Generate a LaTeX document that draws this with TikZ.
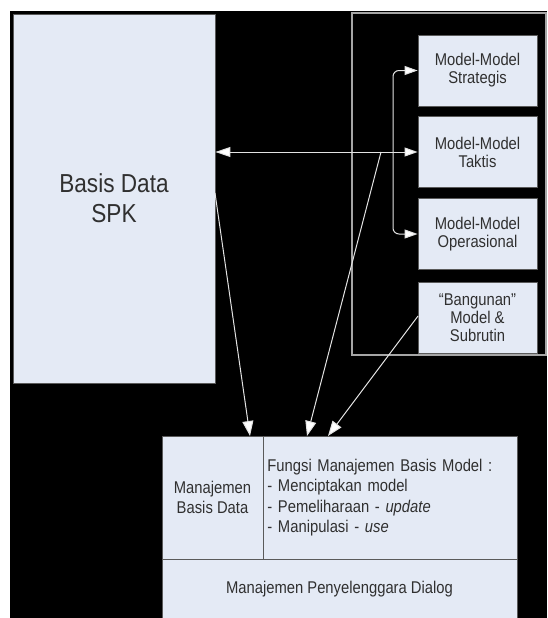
\documentclass[tikz,border=0pt]{standalone}
\usepackage{fontspec}
\setmainfont[FakeStretch=0.87]{Liberation Sans}
\usetikzlibrary{arrows.meta}
\definecolor{boxfill}{HTML}{E4EAF5}
\definecolor{txt}{HTML}{303030}
\definecolor{edge}{HTML}{5A5A5A}
\definecolor{wire}{HTML}{E2E2E2}
\tikzset{
  pane/.style={draw=edge, line width=0.8pt, fill=boxfill, text=txt, inner sep=0pt, align=center},
  modelbox/.style={pane, minimum width=119pt, minimum height=71pt, font=\fontsize{17}{18}\selectfont},
  wirearrow/.style={draw=wire, line width=1pt, -{Triangle[length=13pt,width=9pt,fill=white]}},
}
\begin{document}
\begin{tikzpicture}[x=1pt,y=-1pt]
  \useasboundingbox (0,0) rectangle (547,618);
  \fill[white] (0,0) rectangle (547,618);
  \fill[black] (10,11) rectangle (547,618);
  % frame of models
  \draw[draw=gray!70, line width=1.2pt] (352,13) rectangle (546,355);
  % basis data
  \node[pane, minimum width=202pt, minimum height=369pt, font=\fontsize{26}{30}\selectfont] (basis) at (114,198.5) {Basis Data\\SPK};
  % model boxes
  \node[modelbox] (m1) at (477.5,70.5) {Model-Model\\Strategis};
  \node[modelbox] (m2) at (477.5,152) {Model-Model\\Taktis};
  \node[modelbox] (m3) at (477.5,234) {Model-Model\\Operasional};
  \node[modelbox] (m4) at (477.5,317.5) {``Bangunan''\\Model \&\\Subrutin};
  % bottom block
  \node[pane, minimum width=101pt, minimum height=123pt, font=\fontsize{17}{20}\selectfont] (mbd) at (212.5,497.5) {Manajemen\\Basis Data};
  \node[pane, minimum width=254pt, minimum height=123pt, font=\fontsize{17}{20.5}\selectfont, align=left, anchor=west, text width=246pt, inner xsep=4pt] (mbm) at (263,497.5) {Fungsi Manajemen Basis Model :\\- Menciptakan model\\- Pemeliharaan - \textit{update}\\- Manipulasi - \textit{use}};
  \node[pane, minimum width=355pt, minimum height=60pt, font=\fontsize{17}{20}\selectfont] (dialog) at (339.5,589) {Manajemen Penyelenggara Dialog};
  % connectors
  \draw[wirearrow, {Triangle[length=15pt,width=10pt,fill=white]}-{Triangle[length=13pt,width=9pt,fill=white]}] (basis.east |- m2.west) -- (m2.west);
  \coordinate (br) at (393,152);
  \coordinate (jn) at (381,152);
  \draw[wirearrow, rounded corners=6pt] (br) -- (br |- m1.west) -- (m1.west);
  \draw[wirearrow, rounded corners=6pt] (br) -- (br |- m3.west) -- (m3.west);
  \coordinate (s1) at (215,193);
  \coordinate (t1) at (250,436);
  \coordinate (t2) at (307,436);
  \coordinate (t3) at (328,436);
  \coordinate (s3) at (418,316);
  \draw[wirearrow, -{Triangle[length=15pt,width=11pt,fill=white]}] (s1) -- (t1);
  \draw[wirearrow, -{Triangle[length=15pt,width=11pt,fill=white]}] (jn) -- (t2);
  \draw[wirearrow, -{Triangle[length=15pt,width=11pt,fill=white]}] (s3) -- (t3);
\end{tikzpicture}
\end{document}
